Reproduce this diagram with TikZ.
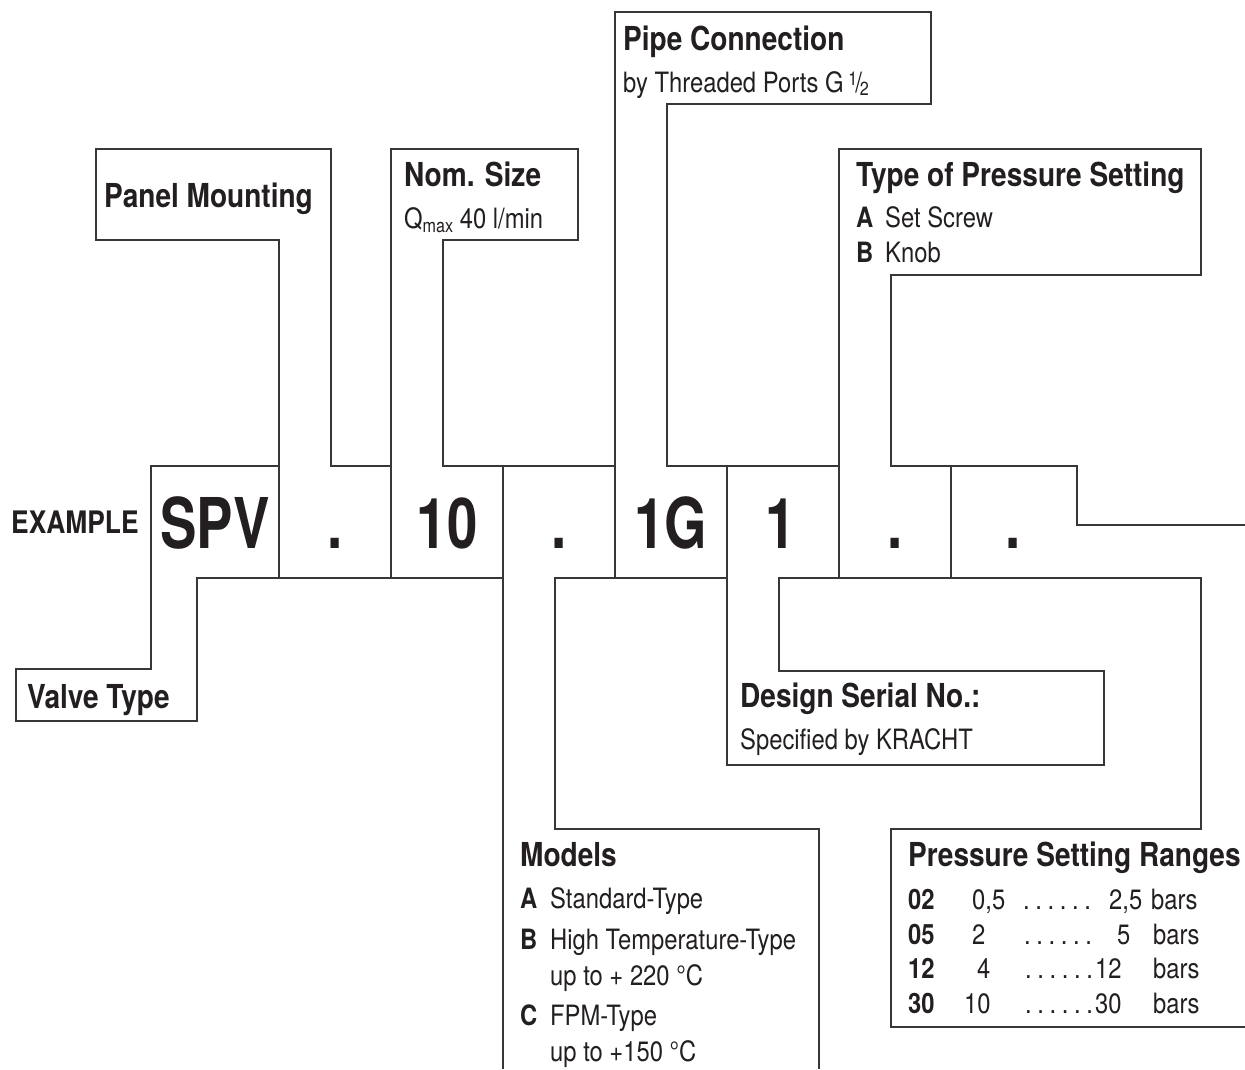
\documentclass[tikz,border=0pt]{standalone}
\usepackage{fontspec}
\setmainfont{TeX Gyre Heros}[FakeStretch=0.85]
\newfontfamily\bigfont{TeX Gyre Heros}[FakeStretch=0.78]
\definecolor{ink}{RGB}{35,31,32}
\definecolor{rule}{RGB}{55,55,55}
\newcommand\dotrow{.\hspace{5.6pt}.\hspace{5.6pt}.\hspace{5.6pt}.\hspace{5.6pt}.\hspace{5.6pt}.}
\newcommand\halfsym{\raisebox{6.5pt}{\fontsize{19}{19}\selectfont 1}\kern-2pt{\fontsize{28}{28}\selectfont /}\kern-2pt\raisebox{-3pt}{\fontsize{19}{19}\selectfont 2}}
\begin{document}
\begin{tikzpicture}[x=1pt,y=-1pt,
  frame/.style={draw=rule,line width=1.4pt},
  head/.style={anchor=base west,inner sep=0pt,text=ink,font=\fontsize{33}{36}\selectfont\bfseries},
  txt/.style={anchor=base west,inner sep=0pt,text=ink,font=\fontsize{28}{32}\selectfont},
  key/.style={anchor=base west,inner sep=0pt,text=ink,font=\fontsize{28}{32}\selectfont\bfseries},
  cell/.style={anchor=base,inner sep=0pt,text=ink,font=\bigfont\fontsize{70}{72}\selectfont\bfseries}]
\useasboundingbox (0,0) rectangle (1245,1069);
% ---- frames ----
% Panel Mounting
\draw[frame] (279,578) -- (279,240) -- (96,240) -- (96,149) -- (331,149) -- (331,466) -- (391,466);
% Nom. Size
\draw[frame] (391,578) -- (391,149) -- (578,149) -- (578,240) -- (443,240) -- (443,466) -- (615,466);
% Pipe Connection
\draw[frame] (615,578) -- (615,12) -- (931,12) -- (931,104) -- (667,104) -- (667,466) -- (839,466);
% Type of Pressure Setting
\draw[frame] (839,578) -- (839,149) -- (1201,149) -- (1201,275) -- (891,275) -- (891,466) -- (1077,466) -- (1077,525) -- (1245,525);
% Valve Type
\draw[frame] (279,466) -- (151,466) -- (151,669) -- (16,669) -- (16,721) -- (197,721) -- (197,578) -- (503,578);
% Models
\draw[frame] (503,466) -- (503,1069);
\draw[frame] (727,578) -- (555,578) -- (555,829) -- (819,829) -- (819,1069);
% Design Serial No.
\draw[frame] (727,466) -- (727,765) -- (1104,765) -- (1104,671) -- (779,671) -- (779,578) -- (1201,578) -- (1201,829) -- (891,829) -- (891,1027) -- (1245,1027);
% divider
\draw[frame] (951,466) -- (951,578);
% ---- example row ----
\node[anchor=base west,inner sep=0pt,text=ink,font=\fontsize{31}{34}\selectfont\bfseries] (ex) at (11,533) {EXAMPLE};
\node[cell] (c1) at (215,548) {SPV};
\node[cell] (c2) at (335,548) {.};
\node[cell] (c3) at (447,548) {10};
\node[cell] (c4) at (559,548) {.};
\node[cell] (c5) at (671,548) {1G};
\node[cell] (c6) at (781,548) {1};
\node[cell] (c7) at (895,548) {.};
\node[cell] (c8) at (1013,548) {.};
% ---- labels ----
\node[head] (pm) at (104,207) {Panel Mounting};
\node[head] (ns) at (404,186) {Nom. Size};
\node[txt] (nsq) at (404,228) {Q\raisebox{-4pt}{\fontsize{19}{20}\selectfont max} 40 l/min};
\node[head] (pc) at (623,50) {Pipe Connection};
\node[txt] (pct) at (623,92) {by Threaded Ports G\,\halfsym};
\node[head] (tp) at (856,186) {Type of Pressure Setting};
\node[key] (tpa) at (856,227) {A};
\node[txt] (tpat) at (885,227) {Set Screw};
\node[key] (tpb) at (856,262) {B};
\node[txt] (tpbt) at (885,262) {Knob};
\node[head] (vt) at (27,708) {Valve Type};
\node[head] (ds) at (740,707) {Design Serial No.:};
\node[txt] (dst) at (740,749) {Specified by KRACHT};
\node[head] (md) at (520,866) {Models};
\node[key] (mda) at (520,908) {A};
\node[txt] (mdat) at (550,908) {Standard-Type};
\node[key] (mdb) at (520,949) {B};
\node[txt] (mdbt) at (550,949) {High Temperature-Type};
\node[txt] (mdbu) at (550,985) {up to + 220 °C};
\node[key] (mdc) at (520,1025) {C};
\node[txt] (mdct) at (550,1025) {FPM-Type};
\node[txt] (mdcu) at (550,1061) {up to +150 °C};
% Pressure Setting Ranges
\node[head] (pr) at (908,866) {Pressure Setting Ranges};
\node[key] (r1k) at (908,909) {02};
\node[txt] (r1a) at (972,909) {0,5};
\node[txt] (r1d) at (1023,909) {\dotrow};
\node[txt] (r1b) at (1109,909) {2,5};
\node[txt] (r1u) at (1151,909) {bars};
\node[key] (r2k) at (908,944) {05};
\node[txt] (r2a) at (972,944) {2};
\node[txt] (r2d) at (1024,944) {\dotrow};
\node[txt] (r2b) at (1117,944) {5};
\node[txt] (r2u) at (1153,944) {bars};
\node[key] (r3k) at (908,978) {12};
\node[txt] (r3a) at (977,978) {4};
\node[txt] (r3d) at (1025,978) {\dotrow};
\node[txt] (r3b) at (1095,978) {12};
\node[txt] (r3u) at (1153,978) {bars};
\node[key] (r4k) at (908,1013) {30};
\node[txt] (r4a) at (964,1013) {10};
\node[txt] (r4d) at (1025,1013) {\dotrow};
\node[txt] (r4b) at (1095,1013) {30};
\node[txt] (r4u) at (1153,1013) {bars};
\end{tikzpicture}
\end{document}
